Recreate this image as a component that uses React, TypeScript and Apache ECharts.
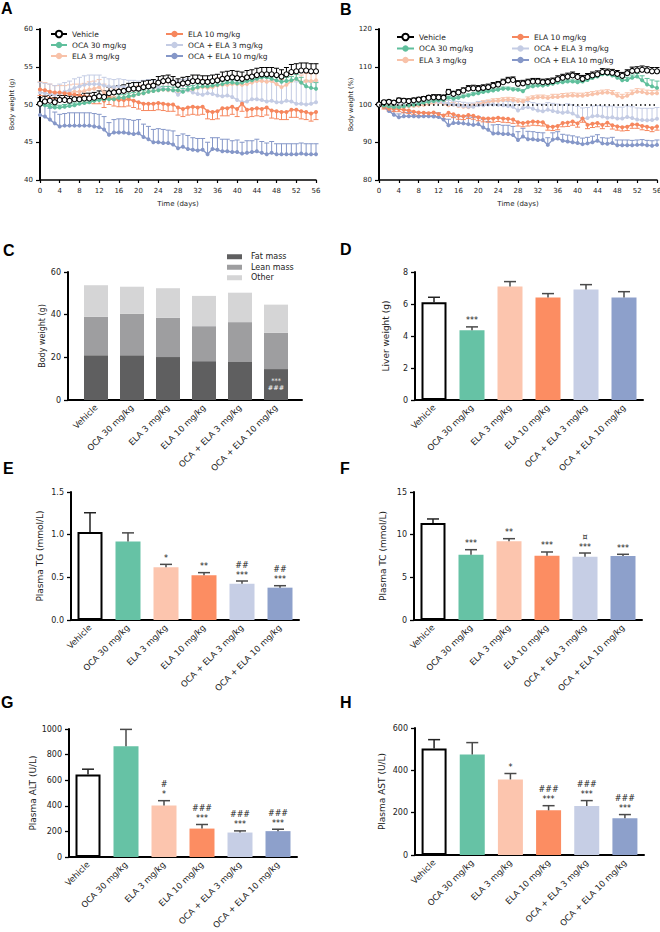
import React, { useEffect, useRef } from 'react';
import * as echarts from 'echarts';

// ---------- DATA ----------
const days = [0,1,2,3,4,5,6,7,8,9,10,11,12,13,14,15,16,17,18,19,20,21,22,23,24,25,26,27,28,29,30,31,32,33,34,35,36,37,38,39,40,41,42,43,44,45,46,47,48,49,50,51,52,53,54,55,56];
const groups = ['Vehicle','OCA 30 mg/kg','ELA 3 mg/kg','ELA 10 mg/kg','OCA + ELA 3 mg/kg','OCA + ELA 10 mg/kg'];
const compNames = ['Fat mass','Lean mass','Other'];

// Panel A: body weight (g)
const aVehicle = [50.1,50.4,50.5,50.3,50.6,50.6,50.5,50.7,50.7,50.8, 50.8,50.9,51.1,51.0,51.5,51.6,51.7,51.8,52.0,52.1, 52.1,52.3,52.4,52.5,52.9,53.1,53.2,52.9,52.6,52.8, 52.9,53.1,53.1,53.0,53.0,53.1,53.2,53.4,53.5,53.6, 53.5,53.4,53.6,53.7,53.9,54.0,54.0,54.0,53.9,53.7, 54.0,54.3,54.4,54.5,54.5,54.4,54.4];
const aVehicleErr = [0.8,0.7,0.7,0.6,0.6,0.6,0.6,0.6,0.6,0.7, 0.7,0.7,0.7,0.8,0.8,0.8,0.8,0.8,0.8,0.8, 0.8,0.8,0.8,0.8,0.8,0.7,0.7,0.8,0.8,0.8, 0.8,0.8,0.8,0.8,0.8,0.8,0.8,0.9,0.9,0.9, 0.9,0.9,0.9,0.9,0.9,0.9,0.9,0.9,0.9,0.9, 0.9,1.0,1.0,1.0,1.0,1.0,1.0];
const aOCA30 = [50.0,49.9,49.7,49.6,49.6,49.7,49.8,49.9,50.1,50.2, 50.3,50.5,50.6,50.7,50.7,50.7,50.9,50.9,51.1,51.2, 51.4,51.5,51.7,51.8,51.9,52.0,52.0,51.9,51.9,51.7, 52.0,52.1,52.3,52.4,52.4,52.5,52.6,52.7,52.9,52.9, 52.8,52.9,53.1,53.2,53.4,53.6,53.6,53.4,53.2,53.0, 53.1,53.2,53.4,52.9,52.4,52.2,52.1];
const aOCA30Err = [0.3,0.3,0.3,0.3,0.3,0.3,0.3,0.3,0.3,0.3, 0.3,0.3,0.3,0.3,0.3,0.3,0.4,0.4,0.4,0.4, 0.4,0.4,0.4,0.4,0.4,0.4,0.4,0.4,0.4,0.4, 0.4,0.4,0.4,0.4,0.4,0.4,0.4,0.4,0.4,0.4, 0.4,0.4,0.4,0.4,0.4,0.4,0.4,0.4,0.5,0.5, 0.5,0.5,0.6,0.7,0.8,0.8,0.8];
const aELA3 = [52.0,51.9,51.7,51.5,51.5,51.5,51.6,51.7,51.7,51.8, 52.0,52.1,52.3,51.6,51.2,50.9,50.8,50.9,50.9,51.2, 51.4,51.5,51.7,51.8,51.9,52.0,51.9,51.9,51.8,51.8, 51.9,52.0,52.2,52.3,52.2,52.3,52.5,52.6,52.6,52.7, 52.7,52.6,52.7,52.9,53.1,53.1,53.0,53.1,52.7,52.3, 52.6,53.1,53.4,52.9,53.1,53.1,53.2];
const aELA3Err = [1.0,1.0,1.0,1.0,1.0,1.0,1.0,1.0,1.0,1.0, 1.0,1.0,1.0,1.1,1.1,1.2,1.2,1.2,1.2,1.1, 1.1,1.0,1.0,1.0,1.0,1.0,1.0,1.0,1.0,1.0, 1.0,1.0,1.0,1.0,1.0,1.0,1.0,1.0,1.0,1.0, 1.0,1.0,1.0,1.0,1.0,1.0,1.0,1.0,1.0,1.0, 1.0,1.0,1.0,1.0,1.0,1.0,1.0];
const aELA10 = [52.0,51.9,51.7,51.6,51.6,51.5,51.4,51.3,51.2,51.1, 51.0,50.9,50.9,50.5,50.9,50.7,50.6,50.6,50.7,50.5, 50.3,50.1,50.1,50.1,50.2,50.1,50.0,50.0,49.6,49.4, 49.6,49.7,49.6,49.7,49.1,49.0,49.1,49.5,49.5,49.7, 49.4,50.1,49.3,49.4,49.5,49.4,49.6,49.2,49.1,49.0, 49.0,49.3,49.3,49.1,49.0,48.8,49.0];
const aELA10Err = [0.8,0.8,0.8,0.8,0.8,0.8,0.8,0.8,0.8,0.8, 0.8,0.8,0.8,0.9,0.9,0.9,0.9,0.9,0.9,0.9, 0.9,0.9,0.9,0.9,0.9,0.9,0.9,0.9,1.0,1.0, 1.0,1.0,1.0,1.0,1.0,1.0,1.0,1.0,1.0,1.0, 1.0,1.0,1.0,1.0,1.0,1.0,1.0,1.0,1.0,1.0, 1.0,1.0,1.0,1.0,1.0,1.0,1.0];
const aOE3 = [51.6,51.5,51.4,51.3,51.5,51.7,51.9,52.2,52.4,52.6, 52.7,52.7,52.7,52.5,52.4,52.3,52.4,52.3,52.2,52.2, 52.1,52.2,52.3,52.2,52.2,52.1,52.0,51.9,51.3,51.8, 51.9,51.6,51.4,51.3,51.5,51.4,51.2,51.1,51.2,51.0, 50.6,50.3,50.4,50.7,50.7,50.6,50.4,50.5,50.3,50.3, 50.5,50.4,50.1,50.1,50.0,50.1,50.3];
const aOE3Err = [1.3,1.3,1.3,1.2,1.2,1.2,1.2,1.2,1.2,1.2, 1.2,1.2,1.2,1.1,1.0,1.0,1.0,1.0,1.0,1.0, 1.0,1.0,1.0,1.0,1.0,1.1,1.2,1.3,1.8,1.5, 1.5,1.6,1.8,1.8,1.8,1.9,2.0,2.0,2.1,2.2, 2.5,2.7,2.6,2.5,2.5,2.6,2.7,2.7,2.8,2.8, 2.7,2.8,2.9,2.9,3.0,2.9,2.8];
const aOE10 = [48.6,48.4,48.0,47.5,47.1,47.2,47.2,47.2,47.2,47.2, 47.2,47.1,47.0,46.7,46.0,46.3,46.3,46.3,46.2,46.1, 46.2,45.7,45.4,45.0,45.0,44.9,44.9,44.7,44.2,44.4, 44.1,44.0,43.9,44.0,43.4,44.1,44.0,43.8,43.8,43.7, 43.7,43.5,43.6,43.7,43.8,43.6,43.4,43.6,43.4,43.4, 43.4,43.4,43.4,43.5,43.4,43.4,43.4];
const aOE10Err = [1.5,1.5,1.5,1.5,1.6,1.6,1.7,1.7,1.7,1.7, 1.7,1.7,1.7,1.7,1.6,1.7,1.8,1.8,1.8,1.8, 1.8,1.7,1.7,1.7,1.8,1.8,1.7,1.8,1.7,1.7, 1.8,1.6,1.6,1.5,1.6,1.5,1.6,1.6,1.6,1.5, 1.6,1.5,1.6,1.5,1.6,1.5,1.5,1.5,1.4,1.4, 1.4,1.4,1.4,1.4,1.4,1.4,1.4];

// Panel B: body weight (%)
const bVehicle = [100,100.6,100.7,100.5,101.1,101.0,100.9,101.1,101.3,101.5, 101.8,101.9,101.9,101.8,103.3,102.8,103.2,103.7,104.2,104.3, 104.2,104.4,104.6,105.0,105.3,105.9,106.4,106.5,105.5,105.6, 105.9,106.1,106.1,105.9,106.0,106.2,106.7,107.1,107.4,107.7, 107.3,106.8,107.3,107.7,108.0,108.6,108.5,108.4,108.1,107.6, 108.3,108.9,109.0,109.2,109.0,108.8,108.8];
const bVehicleErr = [0.2,0.4,0.5,0.5,0.6,0.6,0.6,0.6,0.6,0.6, 0.6,0.7,0.7,0.7,0.7,0.7,0.7,0.7,0.8,0.8, 0.8,0.8,0.8,0.8,0.8,0.8,0.8,0.8,0.8,0.8, 0.8,0.8,0.8,0.8,0.8,0.8,0.9,0.9,0.9,0.9, 0.9,0.9,0.9,0.9,0.9,0.9,0.9,0.9,0.9,0.9, 0.9,1.0,1.0,1.0,1.0,1.0,1.0];
const bOCA30 = [100,99.7,99.5,99.3,99.3,99.5,99.7,99.9,100.2,100.5, 100.7,100.9,101.1,101.2,101.8,101.5,101.8,102.1,102.4,102.7, 103.0,103.3,103.5,103.7,103.9,104.2,104.2,104.0,103.9,103.5, 104.6,104.8,105.0,105.0,105.2,105.5,105.8,105.9,106.1,106.1, 105.9,106.1,106.5,107.0,107.4,108.0,108.0,107.7,107.1,106.4, 106.5,107.1,107.4,106.4,105.3,104.8,104.4];
const bOCA30Err = [0.2,0.3,0.3,0.3,0.3,0.3,0.3,0.3,0.3,0.3, 0.3,0.3,0.3,0.4,0.4,0.4,0.4,0.4,0.4,0.4, 0.4,0.4,0.4,0.4,0.4,0.4,0.4,0.4,0.4,0.4, 0.4,0.4,0.4,0.4,0.4,0.4,0.4,0.4,0.4,0.4, 0.4,0.4,0.4,0.5,0.5,0.5,0.5,0.5,0.6,0.7, 0.7,0.7,0.8,1.2,1.6,1.7,1.8];
const bELA3 = [100,99.8,99.6,99.3,99.3,99.4,99.5,99.6,99.7,99.9, 100.1,100.4,100.6,100.2,99.8,100.0,99.6,99.4,99.3,99.6, 100.0,100.4,100.6,100.9,101.0,101.2,101.3,101.2,100.9,100.8, 101.4,101.7,101.9,101.9,101.7,102.0,102.0,102.2,102.3,102.4, 102.3,102.3,102.5,102.7,102.9,103.1,103.2,103.0,102.3,101.9, 102.3,103.0,103.4,103.3,103.0,102.9,103.0];
const bELA3Err = [0.2,0.4,0.5,0.5,0.5,0.5,0.5,0.5,0.5,0.5, 0.5,0.5,0.5,0.6,0.6,0.6,0.6,0.6,0.6,0.6, 0.6,0.6,0.6,0.6,0.6,0.6,0.6,0.6,0.6,0.6, 0.6,0.6,0.6,0.6,0.6,0.7,0.7,0.7,0.7,0.7, 0.7,0.7,0.7,0.7,0.7,0.7,0.7,0.7,0.8,0.8, 0.8,0.8,0.8,0.8,0.8,0.8,0.8];
const bELA10 = [100,99.3,98.9,98.8,98.8,98.6,98.4,98.1,97.9,97.8, 97.7,97.9,97.5,97.1,97.8,97.4,97.0,96.9,97.2,97.0, 96.6,96.3,96.3,96.3,96.5,96.3,96.2,96.0,95.3,95.1, 95.3,95.5,95.4,95.3,94.2,94.1,94.3,95.1,95.2,95.5, 95.0,96.3,94.6,94.9,95.1,94.6,95.2,94.5,94.2,94.0, 94.1,94.7,94.7,94.3,94.1,93.8,94.2];
const bELA10Err = [0.2,0.5,0.6,0.7,0.7,0.8,0.8,0.8,0.8,0.8, 0.8,0.8,0.9,0.9,0.9,0.9,0.9,0.9,0.9,0.9, 0.9,0.9,1.0,1.0,1.0,1.0,1.0,1.0,1.0,1.0, 1.0,1.0,1.0,1.0,1.0,1.0,1.0,1.0,1.0,1.0, 1.0,1.0,1.0,1.0,1.0,1.0,1.0,1.0,1.0,1.0, 1.0,1.0,1.0,1.0,1.0,1.0,1.0];
const bOE3 = [100,99.6,99.2,99.0,99.3,99.6,99.9,100.1,100.4,100.6, 100.8,100.8,100.7,100.5,100.2,100.0,99.8,99.6,99.4,99.4, 99.8,99.8,100.0,100.0,99.9,99.8,99.6,99.4,98.4,99.1, 99.3,98.9,98.4,98.2,98.6,98.3,98.0,97.8,98.0,97.6, 96.9,96.2,96.4,96.9,97.0,96.8,96.5,96.6,96.3,96.3, 96.7,96.4,96.0,95.9,95.8,95.9,96.2];
const bOE3Err = [0.3,0.5,0.6,0.7,0.8,0.8,0.8,0.9,0.9,0.9, 0.9,0.9,0.9,0.9,0.9,0.9,1.0,1.0,1.0,1.0, 1.0,1.0,1.0,1.0,1.1,1.1,1.2,1.3,1.6,1.5, 1.5,1.6,1.8,1.9,1.9,2.0,2.1,2.1,2.2,2.3, 2.6,2.9,2.8,2.7,2.7,2.8,2.9,3.0,3.0,3.0, 2.9,3.0,3.1,3.1,3.2,3.1,3.0];
const bOE10 = [100,99.3,98.3,97.3,96.6,96.9,96.9,96.9,96.8,96.9, 96.9,96.8,96.7,96.0,94.5,95.1,95.1,95.0,94.8,94.6, 94.8,93.9,93.3,92.3,92.4,92.2,92.2,91.9,90.6,91.5, 90.8,90.8,90.6,90.6,89.3,90.7,91.0,90.4,90.2,90.0, 89.8,89.5,89.7,90.0,90.4,89.7,89.6,89.8,89.2,89.2, 89.2,89.2,89.3,89.4,89.2,89.1,89.3];
const bOE10Err = [0.3,0.6,0.8,0.9,0.9,1.0,1.0,1.0,1.0,1.0, 1.0,1.0,1.1,1.3,1.6,1.6,1.7,1.8,1.9,2.0, 2.0,2.1,2.2,2.3,2.3,2.3,2.3,2.3,2.2,2.2, 2.1,2.0,2.0,1.9,1.9,1.8,1.8,1.7,1.7,1.7, 1.6,1.6,1.6,1.6,1.6,1.5,1.5,1.5,1.4,1.4, 1.4,1.3,1.3,1.3,1.3,1.3,1.3];

// Panel C: body composition (g)
const cFat = [21.0, 21.0, 20.1, 18.2, 17.8, 14.5];
const cLean = [18.0, 19.4, 18.4, 16.4, 18.7, 17.0];
const cOther = [14.8, 12.7, 13.9, 14.2, 13.8, 13.2];
const cSig = ['', '', '', '', '', '***\n###'];

// Panel D: liver weight (g)
const dMean = [6.11, 4.36, 7.10, 6.40, 6.90, 6.40];
const dErr = [0.31, 0.21, 0.30, 0.25, 0.31, 0.37];
const dSig = ['', '***', '', '', '', ''];
// Panel E: plasma TG (mmol/L)
const eMean = [1.03, 0.92, 0.617, 0.523, 0.426, 0.379];
const eErr = [0.227, 0.101, 0.035, 0.032, 0.031, 0.023];
const eSig = ['', '', '*', '**', '##\n***', '##\n***'];
// Panel F: plasma TC (mmol/L)
const fMean = [11.37, 7.66, 9.22, 7.54, 7.42, 7.50];
const fErr = [0.47, 0.58, 0.31, 0.43, 0.43, 0.20];
const fSig = ['', '***', '**', '***', '¤\n***', '***'];
// Panel G: plasma ALT (U/L)
const gMean = [644, 866, 403, 222, 191, 202];
const gErr = [42, 131, 37, 32, 13, 15];
const gSig = ['', '', '#\n*', '###\n***', '###\n***', '###\n***'];
// Panel H: plasma AST (U/L)
const hMean = [503, 475, 357, 211, 232, 174];
const hErr = [42, 56, 28, 22, 25, 17];
const hSig = ['', '', '*', '###\n***', '###\n***', '###\n***'];

// ---------- STYLE ----------
const FF = 'DejaVu Sans';
const lineColors = ['#000000', '#5fbf9c', '#f8c2a9', '#f6875e', '#c4cce4', '#8597c8'];
const barColors = ['#ffffff', '#66c2a5', '#fcc5ae', '#fc8d62', '#c6cee5', '#8da0cb'];
const compColors = ['#5f5f60', '#9e9ea0', '#d5d5d6'];
const errDirs = [1, 1, 1, -1, 1, 1];

export default function App() {
  const ref = useRef<HTMLDivElement>(null);
  useEffect(() => {
    if (!ref.current) return;
    const chart = echarts.init(ref.current, null, { renderer: 'svg' });
    const grids: any[] = [];
    const xAxes: any[] = [];
    const yAxes: any[] = [];
    const series: any[] = [];

    const addGrid = (left: number, top: number, width: number, height: number) => {
      grids.push({ left, top, width, height, containLabel: false, outerBoundsMode: 'none' });
      return grids.length - 1;
    };

    // ----- line panels -----
    const linePanel = (left: number, width: number, yMin: number, yMax: number, yInt: number, yName: string,
      means: number[][], errs: number[][], refLine: boolean) => {
      const gi = addGrid(left, 29, width, 151);
      xAxes.push({
        type: 'value', gridIndex: gi, min: 0, max: 56, interval: 4,
        axisLine: { show: true, onZero: false, lineStyle: { color: '#000', width: 1.5 } },
        axisTick: { show: true, length: 3, lineStyle: { color: '#000', width: 1.2 } },
        axisLabel: { fontSize: 7, color: '#222', margin: 7, fontFamily: FF },
        splitLine: { show: false },
        name: 'Time (days)', nameLocation: 'middle', nameGap: 20,
        nameTextStyle: { fontSize: 7, color: '#222', fontFamily: FF },
      });
      yAxes.push({
        type: 'value', gridIndex: gi, min: yMin, max: yMax, interval: yInt,
        axisLine: { show: true, onZero: false, lineStyle: { color: '#000', width: 2 } },
        axisTick: { show: true, length: 4, lineStyle: { color: '#000', width: 1.2 } },
        axisLabel: { fontSize: 7, color: '#222', margin: 7, fontFamily: FF },
        splitLine: { show: false },
        name: yName, nameLocation: 'middle', nameGap: 25,
        nameTextStyle: { fontSize: 6.5, color: '#222', fontFamily: FF },
      });
      const order = [2, 4, 5, 3, 1, 0];
      order.forEach((k) => {
        const col = lineColors[k];
        series.push({
          type: 'custom', name: 'err' + gi + '_' + k, xAxisIndex: gi, yAxisIndex: gi, silent: true, z: 1, clip: false,
          data: means[k].map((v, i) => [days[i], v, errs[k][i]]),
          renderItem: (params: any, api: any) => {
            const x = api.value(0), m = api.value(1), e = api.value(2);
            const p0 = api.coord([x, m]);
            const p1 = api.coord([x, m + errDirs[k] * e]);
            return {
              type: 'group',
              children: [
                { type: 'line', shape: { x1: p0[0], y1: p0[1], x2: p1[0], y2: p1[1] }, style: { stroke: col, lineWidth: 1 } },
                { type: 'line', shape: { x1: p1[0] - 2.5, y1: p1[1], x2: p1[0] + 2.5, y2: p1[1] }, style: { stroke: col, lineWidth: 1 } },
              ],
            };
          },
        });
      });
      order.forEach((k, j) => {
        const s: any = {
          type: 'line', name: groups[k], xAxisIndex: gi, yAxisIndex: gi, z: 2,
          data: means[k].map((v, i) => [days[i], v]),
          symbol: 'circle', symbolSize: k === 0 ? 5 : 4,
          itemStyle: k === 0 ? { color: '#ffffff', borderColor: '#000', borderWidth: 1.1 } : { color: lineColors[k] },
          lineStyle: { color: lineColors[k], width: 1.4 },
          emphasis: { disabled: true },
        };
        if (refLine && j === 0) {
          s.markLine = {
            silent: true, symbol: ['none', 'none'], label: { show: false },
            lineStyle: { type: [1.5, 3], color: '#000', width: 1.5 },
            data: [{ yAxis: 100 }],
          };
        }
        series.push(s);
      });
    };

    linePanel(40, 276, 40, 60, 5, 'Body weight (g)',
      [aVehicle, aOCA30, aELA3, aELA10, aOE3, aOE10],
      [aVehicleErr, aOCA30Err, aELA3Err, aELA10Err, aOE3Err, aOE10Err], false);
    linePanel(379, 278, 80, 120, 10, 'Body weight (%)',
      [bVehicle, bOCA30, bELA3, bELA10, bOE3, bOE10],
      [bVehicleErr, bOCA30Err, bELA3Err, bELA10Err, bOE3Err, bOE10Err], true);

    const catAxis = (gi: number, showLine: boolean) => ({
      type: 'category', gridIndex: gi, data: groups,
      axisLine: { show: showLine, onZero: false, lineStyle: { color: '#000', width: 2 } },
      axisTick: { show: false },
      axisLabel: { rotate: 45, fontSize: 8.5, color: '#222', margin: 6, interval: 0, fontFamily: FF },
      splitLine: { show: false },
    });
    const valAxis = (gi: number, max: number, interval: number, name: string, nameGap: number, nameSize: number, dec: number) => ({
      type: 'value', gridIndex: gi, min: 0, max, interval,
      axisLine: { show: true, onZero: false, lineStyle: { color: '#000', width: 2 } },
      axisTick: { show: true, length: 4, lineStyle: { color: '#000', width: 1.3 } },
      axisLabel: { fontSize: 8, color: '#222', margin: 7, fontFamily: FF, formatter: (v: number) => v.toFixed(dec) },
      splitLine: { show: false },
      name, nameLocation: 'middle', nameGap,
      nameTextStyle: { fontSize: nameSize, color: '#222', fontFamily: FF },
    });

    // ----- panel C (frame grid + bar grid) -----
    const gcf = addGrid(68, 272, 234, 128);
    xAxes.push({ type: 'value', gridIndex: gcf, min: 0, max: 1, axisLine: { show: true, onZero: false, lineStyle: { color: '#000', width: 2 } }, axisTick: { show: false }, axisLabel: { show: false }, splitLine: { show: false } });
    yAxes.push(valAxis(gcf, 60, 20, 'Body weight (g)', 21, 8, 0));
    const gcb = addGrid(78, 272, 216, 128);
    xAxes.push(catAxis(gcb, false));
    yAxes.push({ type: 'value', gridIndex: gcb, min: 0, max: 60, show: false });
    [cFat, cLean, cOther].forEach((arr, k) => {
      series.push({
        type: 'bar', name: compNames[k], xAxisIndex: gcb, yAxisIndex: gcb, stack: 'comp', barWidth: 24,
        itemStyle: { color: compColors[k] },
        emphasis: { disabled: true },
        data: arr.map((v, i) => (k === 0 && cSig[i]) ? {
          value: v,
          label: { show: true, position: 'insideTop', distance: 8, formatter: cSig[i], color: '#ffffff', fontSize: 6.5, lineHeight: 7, fontFamily: FF },
        } : v),
      });
    });

    // ----- bar panels D-H -----
    const barPanel = (left: number, top: number, height: number, max: number, interval: number, name: string, nameGap: number, dec: number,
      mean: number[], err: number[], sig: string[], width = 228) => {
      const gi = addGrid(left, top, width, height);
      xAxes.push(catAxis(gi, true));
      yAxes.push(valAxis(gi, max, interval, name, nameGap, 9, dec));
      series.push({
        type: 'bar', name: 'bars' + gi, xAxisIndex: gi, yAxisIndex: gi, barWidth: 25,
        emphasis: { disabled: true },
        data: mean.map((v, i) => ({
          value: v,
          itemStyle: i === 0 ? { color: '#ffffff', borderColor: '#000', borderWidth: 2 } : { color: barColors[i] },
        })),
      });
      series.push({
        type: 'custom', name: 'errbars' + gi, xAxisIndex: gi, yAxisIndex: gi, silent: true, z: 3, clip: false,
        data: mean.map((v, i) => [i, v, err[i]]),
        renderItem: (params: any, api: any) => {
          const i = api.value(0), m = api.value(1), e = api.value(2);
          const p0 = api.coord([i, m]);
          const p1 = api.coord([i, m + e]);
          const stroke = i === 0 ? '#222' : '#4a4a4a';
          const children: any[] = [
            { type: 'line', shape: { x1: p0[0], y1: p0[1], x2: p1[0], y2: p1[1] }, style: { stroke, lineWidth: 1.5 } },
            { type: 'line', shape: { x1: p1[0] - 6, y1: p1[1], x2: p1[0] + 6, y2: p1[1] }, style: { stroke, lineWidth: 1.5 } },
          ];
          const s = sig[params.dataIndex];
          if (s) {
            children.push({
              type: 'text',
              style: { text: s, x: p1[0], y: p1[1] - 1, align: 'center', verticalAlign: 'bottom', fontSize: 8, lineHeight: 10, fontFamily: FF, fill: '#222' },
            });
          }
          return { type: 'group', children };
        },
      });
    };

    barPanel(415, 272, 128, 8, 2, 'Liver weight (g)', 25, 0, dMean, dErr, dSig);
    barPanel(71, 492, 128, 1.5, 0.5, 'Plasma TG (mmol/L)', 27, 1, eMean, eErr, eSig);
    barPanel(414, 492, 128, 15, 5, 'Plasma TC (mmol/L)', 27, 0, fMean, fErr, fSig);
    barPanel(69, 729, 128, 1000, 200, 'Plasma ALT (U/L)', 28, 0, gMean, gErr, gSig);
    barPanel(415, 728, 127, 600, 200, 'Plasma AST (U/L)', 29, 0, hMean, hErr, hSig, 229);

    const legendBase = {
      orient: 'vertical', itemWidth: 16, itemHeight: 8, itemGap: 2,
      textStyle: { fontSize: 7.5, lineHeight: 9, color: '#222', fontFamily: FF },
      selectedMode: false,
    };
    const legends = [
      { ...legendBase, left: 45, top: 24.5, data: groups.slice(0, 3) },
      { ...legendBase, left: 160, top: 24.5, itemWidth: 17, data: groups.slice(3) },
      { ...legendBase, left: 391, top: 27.5, itemWidth: 17, itemGap: 2.5, data: groups.slice(0, 3) },
      { ...legendBase, left: 506, top: 27.5, itemWidth: 17, itemGap: 2.5, data: groups.slice(3) },
      {
        orient: 'vertical', left: 222, top: 247, itemWidth: 15, itemHeight: 5, itemGap: 1, icon: 'rect', selectedMode: false,
        textStyle: { fontSize: 8, lineHeight: 9.5, color: '#222', fontFamily: FF, padding: [0, 0, 0, 4] },
        data: compNames,
      },
    ];

    const letter = (t: string, left: number, top: number) => ({
      type: 'text', left, top,
      style: { text: t, font: 'bold 16px "Liberation Sans", Arial, sans-serif', fill: '#000' },
    });

    chart.setOption({
      animation: false,
      backgroundColor: '#ffffff',
      grid: grids,
      xAxis: xAxes,
      yAxis: yAxes,
      legend: legends,
      series,
      graphic: [
        letter('A', 1, 0), letter('B', 340, 1),
        letter('C', 3, 242), letter('D', 340, 241),
        letter('E', 3, 460), letter('F', 340, 460),
        letter('G', 1, 694), letter('H', 340, 694),
      ],
    });
    return () => chart.dispose();
  }, []);
  return <div ref={ref} style={{ position: 'absolute', left: 0, top: 0, width: 660, height: 932, background: '#fff' }} />;
}
